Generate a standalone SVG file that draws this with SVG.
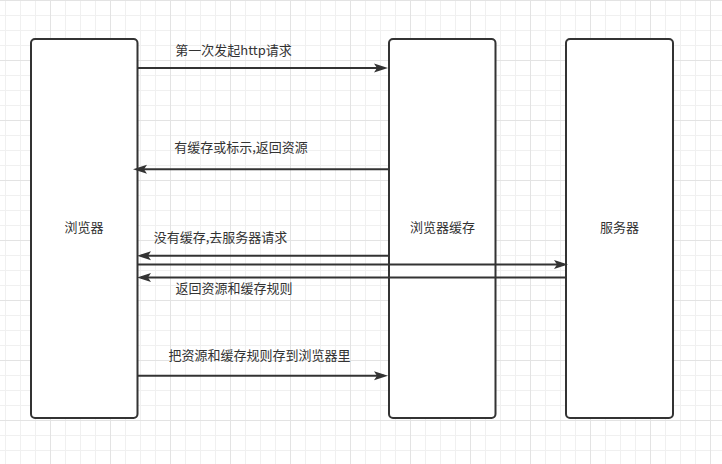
<svg xmlns="http://www.w3.org/2000/svg" width="722" height="464" viewBox="0 0 722 464">
  <style>
    .box { fill: #ffffff; stroke: #333333; stroke-width: 2; }
    .lbl { font-family: "Noto Sans CJK SC", "Liberation Sans", sans-serif; font-size: 13px; fill: #333333; text-anchor: middle; }
    .edge { fill: none; stroke: #333333; stroke-width: 2; marker-end: url(#arrow); }
  </style>
  <defs>
    <pattern id="minor" patternUnits="userSpaceOnUse" x="5" y="0" width="15" height="15">
      <path d="M0.5,0 V15 M0,0.5 H15" stroke="#f0f0f0" stroke-width="1" fill="none"/>
    </pattern>
    <pattern id="major" patternUnits="userSpaceOnUse" x="50" y="0" width="60" height="60">
      <path d="M0.5,0 V60 M0,0.5 H60" stroke="#e3e3e3" stroke-width="1" fill="none"/>
    </pattern>
    <marker id="arrow" markerUnits="userSpaceOnUse" markerWidth="16" markerHeight="10" refX="11" refY="5" orient="auto">
      <path d="M15,5 L1,0.5 L4,5 L1,9.5 Z" fill="#333333"/>
    </marker>
  </defs>
  <rect width="722" height="464" fill="#ffffff"/>
  <rect width="722" height="464" fill="url(#minor)"/>
  <rect width="722" height="464" fill="url(#major)"/>

  <g id="browser">
    <rect class="box" x="31" y="39" width="106.5" height="379" rx="4"/>
    <text class="lbl" x="84" y="232">浏览器</text>
  </g>
  <g id="cache">
    <rect class="box" x="389" y="39" width="106.5" height="379" rx="4"/>
    <text class="lbl" x="442.5" y="232">浏览器缓存</text>
  </g>
  <g id="server">
    <rect class="box" x="566" y="39" width="107" height="379" rx="4"/>
    <text class="lbl" x="619.5" y="232">服务器</text>
  </g>

  <g id="connectors">
    <path class="edge" d="M138,68 H384"/>
    <path class="edge" d="M389,169.3 H137"/>
    <path class="edge" d="M389,255.8 H141"/>
    <path class="edge" d="M138,264.5 H564"/>
    <path class="edge" d="M566,277.5 H141"/>
    <path class="edge" d="M138,375.8 H384"/>
    <text class="lbl" x="233.5" y="55">第一次发起http请求</text>
    <text class="lbl" x="241" y="152">有缓存或标示,返回资源</text>
    <text class="lbl" x="220.5" y="242">没有缓存,去服务器请求</text>
    <text class="lbl" x="234" y="293">返回资源和缓存规则</text>
    <text class="lbl" x="259.5" y="359.5">把资源和缓存规则存到浏览器里</text>
  </g>
</svg>
